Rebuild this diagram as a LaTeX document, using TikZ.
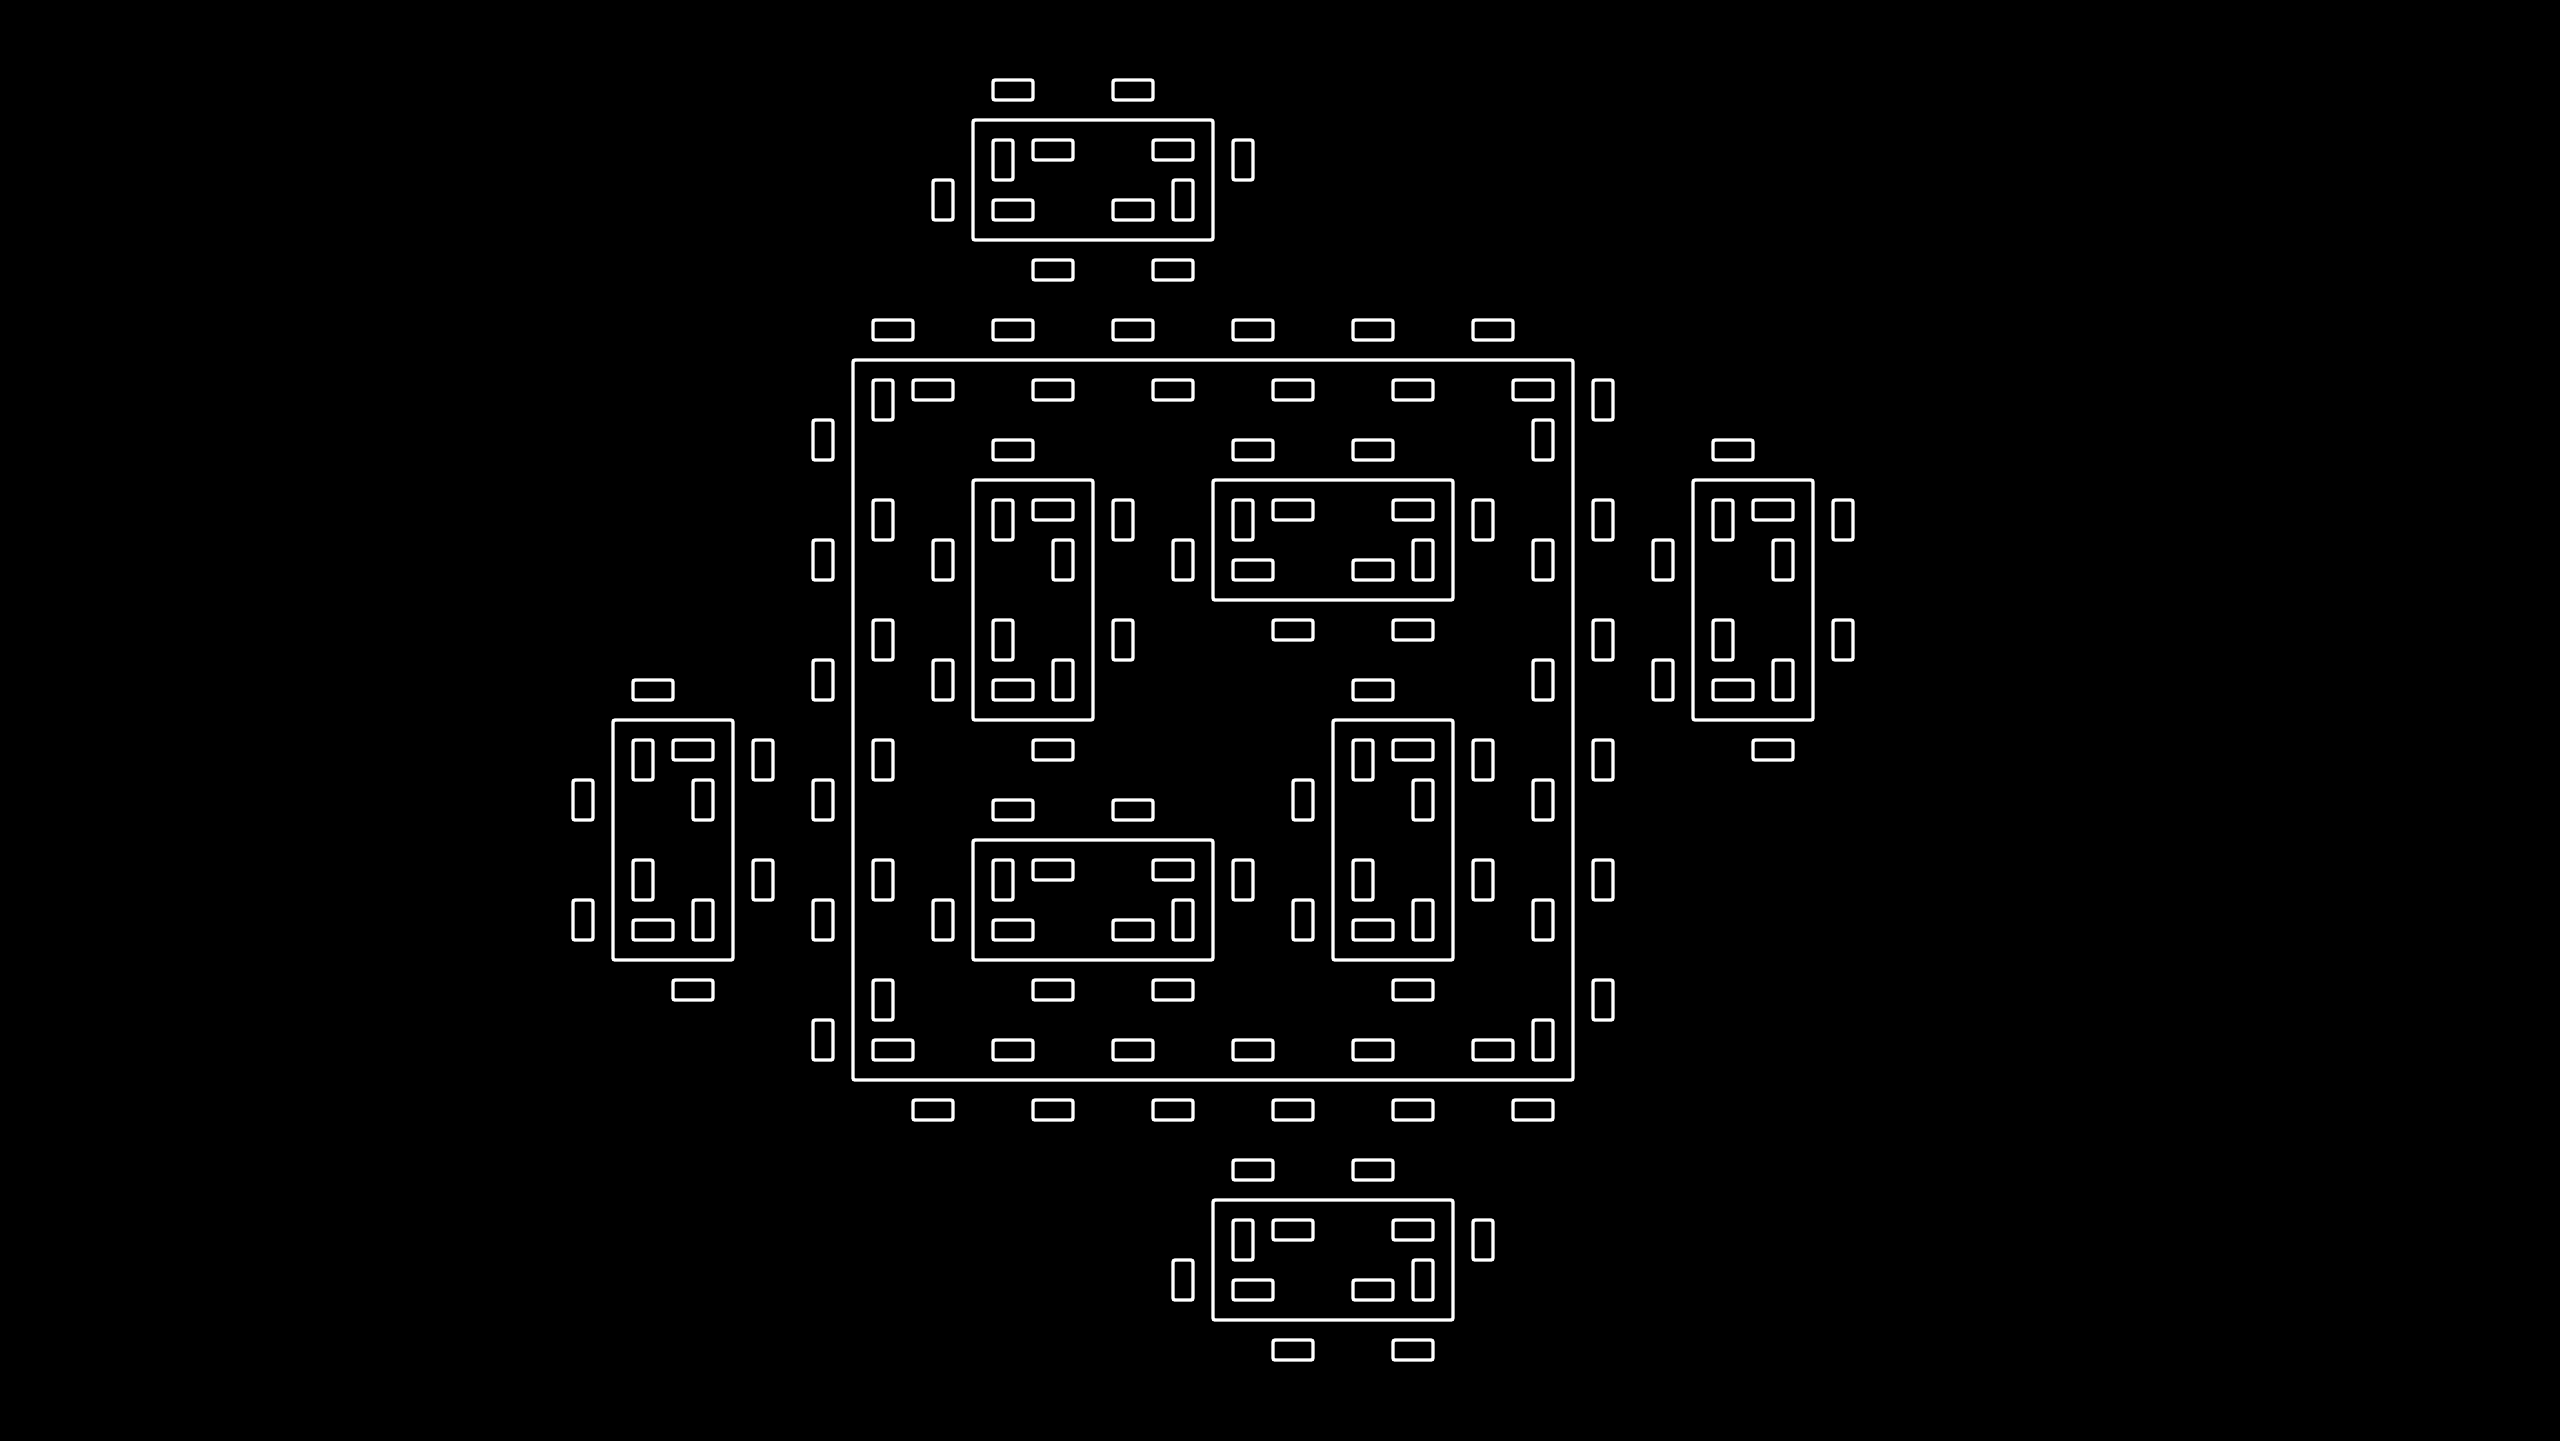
\documentclass[tikz,border=0pt]{standalone}

% one seat, centred at (#1,#2): h = lying, v = standing
\newcommand{\hseat}[2]{\draw[seat, shift={(#1,#2)}] (-1/6,-1/12) rectangle (1/6,1/12);}
\newcommand{\vseat}[2]{\draw[seat, shift={(#1,#2)}] (-1/12,-1/6) rectangle (1/12,1/6);}

% table with seats in and out: left, top, width, height (in cells)
\newcommand{\seating}[4]{%
  \draw[tablebox] (#1,#2) rectangle ++(#3,-#4);
  \foreach \i in {1,...,#3}{
    \pgfmathsetmacro\xa{#1+\i-2/3}
    \pgfmathsetmacro\xb{#1+\i-1/3}
    \hseat{\xa}{#2+0.25}
    \hseat{\xb}{#2-0.25}
    \hseat{\xa}{#2-#4+0.25}
    \hseat{\xb}{#2-#4-0.25}
  }
  \foreach \j in {1,...,#4}{
    \pgfmathsetmacro\ya{#2-\j+2/3}
    \pgfmathsetmacro\yb{#2-\j+1/3}
    \vseat{#1+0.25}{\ya}
    \vseat{#1-0.25}{\yb}
    \vseat{#1+#3+0.25}{\ya}
    \vseat{#1+#3-0.25}{\yb}
  }
}

\begin{document}
\begin{tikzpicture}[
    seat/.style={draw=white, line width=0.8pt, rounded corners=0.5pt},
    tablebox/.style={draw=white, line width=0.8pt, rounded corners=0.5pt}]
    \useasboundingbox (-7.108,3) rectangle (14.225,-9);
    \fill[black] (-7.3,3.2) rectangle (14.4,-9.2);

    \seating{0}{0}{6}{6}   % big room

    \seating{1}{2}{2}{1}   % top
    \seating{1}{-1}{1}{2}
    \seating{3}{-1}{2}{1}
    \seating{1}{-4}{2}{1}
    \seating{4}{-3}{1}{2}
    \seating{7}{-1}{1}{2}  % right
    \seating{-2}{-3}{1}{2} % left
    \seating{3}{-7}{2}{1}  % bottom

  \end{tikzpicture}
\end{document}
